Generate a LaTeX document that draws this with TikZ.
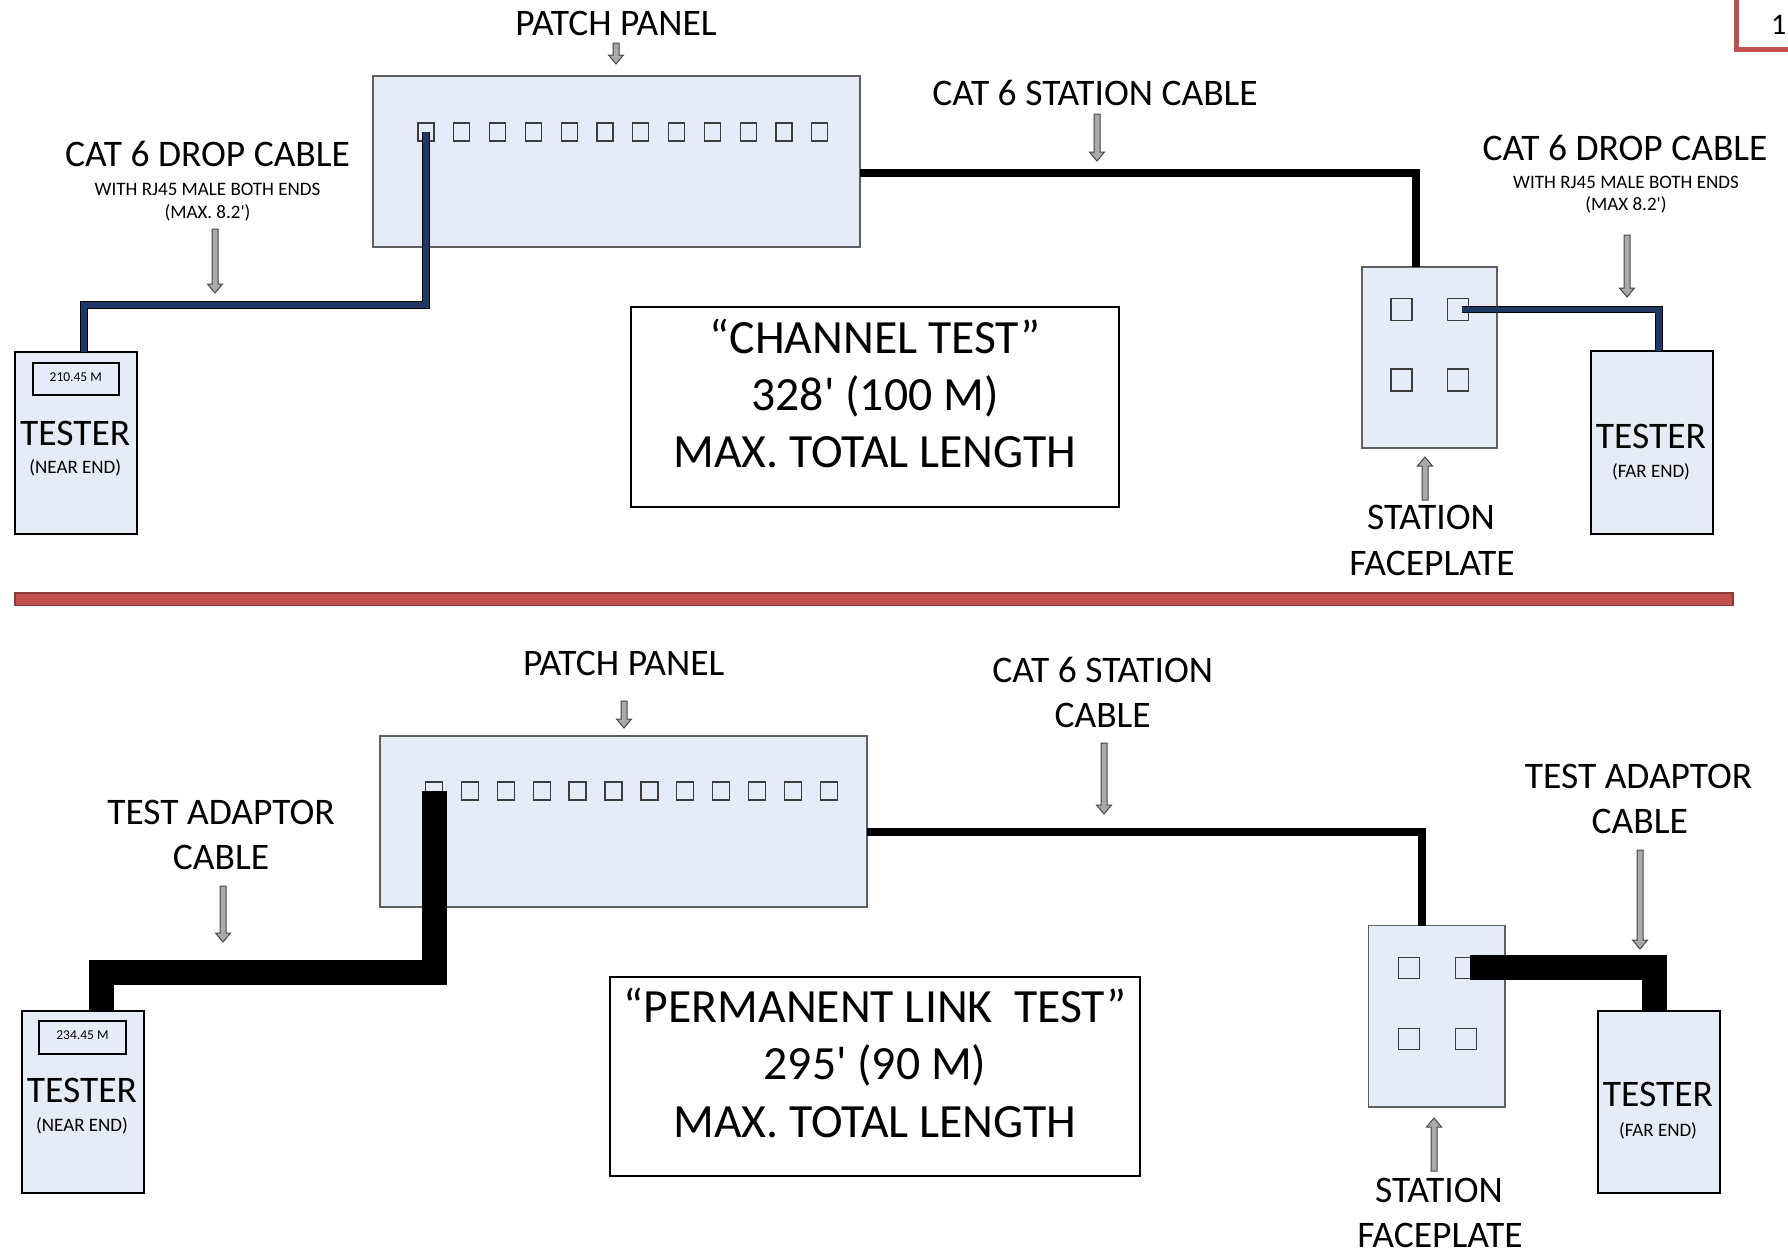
\documentclass[tikz,border=0pt]{standalone}
\usepackage{fontspec}
\setmainfont{Carlito}
\definecolor{panelfill}{RGB}{230,236,247}
\definecolor{panelline}{RGB}{95,95,95}
\definecolor{portline}{RGB}{60,60,60}
\definecolor{cablenavy}{RGB}{31,56,100}
\definecolor{arrowfill}{RGB}{170,170,170}
\definecolor{arrowline}{RGB}{70,70,70}
\definecolor{sepred}{RGB}{192,80,77}
\definecolor{sepdark}{RGB}{140,56,54}
\newcommand\garrow[3]{%
  \pgfmathsetmacro\gahb{#3-9*sign(#3-#2)}%
  \filldraw[fill=arrowfill,draw=arrowline,line width=1pt,line join=miter]
    ({#1-3},#2) -- ({#1+3},#2) -- ({#1+3},\gahb) -- ({#1+7.5},\gahb) -- (#1,#3)
    -- ({#1-7.5},\gahb) -- ({#1-3},\gahb) -- cycle;}
\begin{document}
\begin{tikzpicture}[x=1pt,y=-1pt,
  ppanel/.style={draw=panelline,fill=panelfill,line width=1.2pt,inner sep=0pt,outer sep=0pt},
  ttester/.style={draw=black,fill=panelfill,line width=2pt,inner sep=0pt,outer sep=0pt},
  pport/.style={draw=portline,fill=panelfill,line width=1.3pt,inner sep=0pt,outer sep=0pt},
  ddisp/.style={draw=black,line width=2pt,inner sep=0pt},
  tbox/.style={draw=black,fill=white,line width=1.5pt,inner sep=0pt},
  tlbig/.style={inner sep=0pt,anchor=base,font=\fontsize{37.5}{45}\selectfont},
  tlsub/.style={inner sep=0pt,anchor=base,font=\fontsize{19}{23}\selectfont},
  tlbox/.style={inner sep=0pt,anchor=base,font=\fontsize{47.7}{57}\selectfont},
  tltiny/.style={inner sep=0pt,anchor=base,font=\fontsize{13.5}{16}\selectfont},
  bluecable/.style={draw=cablenavy,line width=5.5pt,line join=miter,
     preaction={draw=black,line width=7.5pt,line join=miter}},
  stationcable/.style={draw=black,line width=8pt,line join=miter},
  thickcable/.style={draw=black,line width=25pt,line join=miter}]
\fill[white] (0,0) rectangle (1788,1253);
\useasboundingbox (0,0) rectangle (1788,1253);

% corner mark
\draw[sepred,line width=5pt] (1736.5,-5) -- (1736.5,49.5) -- (1800,49.5);
\node[inner sep=0pt,anchor=base west,font=\fontsize{30}{36}\selectfont] (pg) at (1771,34) {1};

% ================= TOP: CHANNEL TEST =================
\node[ppanel,minimum width=487,minimum height=171] (pp1) at (616.5,161.5) {};
\foreach \i in {0,...,11}
  \node[pport,minimum width=16,minimum height=18] (pa\i) at ({426+35.8*\i},132) {};
\node[ppanel,minimum width=135,minimum height=181] (fa) at (1429.5,357.5) {};
\node[pport,minimum width=21,minimum height=22] (fq0) at (1401.5,309.5) {};
\node[pport,minimum width=21,minimum height=22] (fq1) at (1458,309.5) {};
\node[pport,minimum width=21,minimum height=22] (fq2) at (1401.5,380) {};
\node[pport,minimum width=21,minimum height=22] (fq3) at (1458,380) {};
\node[ttester,minimum width=122,minimum height=182] (ta) at (75.5,443) {};
\node[ddisp,minimum width=86,minimum height=32] (da) at (76,378.5) {};
\node[ttester,minimum width=122,minimum height=183] (tb) at (1652,442.5) {};
\node[tbox,minimum width=488,minimum height=200] (cb) at (875,407) {};

\node[tltiny] (da-t) at (75.8,381) {210.45 M};
\node[tlbig] (ta-t) at (75.3,445) {TESTER};
\node[tlsub] (ta-s) at (75.3,473) {(NEAR END)};
\node[tlbig] (tb-t) at (1651,448.5) {TESTER};
\node[tlsub] (tb-s) at (1651,477) {(FAR END)};

\node[tlbox] (cb1) at (875,353) {“CHANNEL TEST”};
\node[tlbox] (cb2) at (875,410) {328\textquotesingle{} (100 M)};
\node[tlbox] (cb3) at (875,467) {MAX. TOTAL LENGTH};

\node[tlbig] (l1) at (616,35.8) {PATCH PANEL};
\garrow{616}{43}{64}
\node[tlbig] (l2) at (207.5,166) {CAT 6 DROP CABLE};
\node[tlsub] (l2a) at (207.5,195) {WITH RJ45 MALE BOTH ENDS};
\node[tlsub] (l2b) at (207.5,218) {(MAX. 8.2\textquotesingle)};
\garrow{215}{229}{293}
\node[tlbig] (l3) at (1095,105.3) {CAT 6 STATION CABLE};
\garrow{1097}{114}{161}
\node[tlbig] (l4) at (1625,160) {CAT 6 DROP CABLE};
\node[tlsub] (l4a) at (1626,188.5) {WITH RJ45 MALE BOTH ENDS};
\node[tlsub] (l4b) at (1626,210.5) {(MAX 8.2\textquotesingle)};
\garrow{1627}{235}{297}
\node[tlbig] (l5) at (1431,529.5) {STATION};
\node[tlbig] (l5b) at (1432,575) {FACEPLATE};
\garrow{1425}{500}{457}

% cables top
\coordinate (cbl) at (84,305);
\coordinate (cbr) at (1659,0);
\draw[bluecable] (pa0.center) |- (cbl) -- (cbl |- ta.north);
\draw[bluecable] ([xshift=4pt]fq1.center) -| (cbr |- tb.north);
\draw[stationcable] ([yshift=-11.5pt]pp1.east) -| ([xshift=-13.5pt]fa.north);

% separator
\draw[draw=sepdark,fill=sepred,line width=1.2pt] (15,593) rectangle (1733,605.5);

% ================= BOTTOM: PERMANENT LINK TEST =================
\node[ppanel,minimum width=487,minimum height=171] (pp2) at (623.5,821.5) {};
\foreach \i in {0,...,11}
  \node[pport,minimum width=17,minimum height=18] (pb\i) at ({434+35.9*\i},791) {};
\node[ppanel,minimum width=136.5,minimum height=181.5] (fb) at (1436.8,1016.3) {};
\node[pport,minimum width=21,minimum height=21] (fr0) at (1409,967.8) {};
\node[pport,minimum width=21,minimum height=21] (fr1) at (1466,967.8) {};
\node[pport,minimum width=21,minimum height=21] (fr2) at (1409,1039.3) {};
\node[pport,minimum width=21,minimum height=21] (fr3) at (1466,1039.3) {};
\node[ttester,minimum width=122.4,minimum height=182] (tc) at (83,1101.5) {};
\node[ddisp,minimum width=87,minimum height=33.5] (dc) at (82.7,1037.3) {};
\node[ttester,minimum width=121.6,minimum height=182] (td) at (1658.8,1101.5) {};
\node[tbox,minimum width=530,minimum height=199] (pb) at (875,1076.5) {};

\node[tltiny] (dc-t) at (82.5,1039.7) {234.45 M};
\node[tlbig] (tc-t) at (82,1102) {TESTER};
\node[tlsub] (tc-s) at (82,1131.5) {(NEAR END)};
\node[tlbig] (td-t) at (1658,1106.5) {TESTER};
\node[tlsub] (td-s) at (1658,1136) {(FAR END)};

\node[tlbox] (pb1) at (875,1022.5) {“PERMANENT LINK\ \ TEST”};
\node[tlbox] (pb2) at (875,1079.5) {295\textquotesingle{} (90 M)};
\node[tlbox] (pb3) at (875,1137) {MAX. TOTAL LENGTH};

\node[tlbig] (m1) at (623.7,675.5) {PATCH PANEL};
\garrow{624}{701}{728}
\node[tlbig] (m2) at (221,824.3) {TEST ADAPTOR};
\node[tlbig] (m2b) at (221,869.3) {CABLE};
\garrow{223}{886}{942}
\node[tlbig] (m3) at (1102.7,682.3) {CAT 6 STATION};
\node[tlbig] (m3b) at (1102.7,727) {CABLE};
\garrow{1104}{743}{814}
\node[tlbig] (m4) at (1638.6,788.4) {TEST ADAPTOR};
\node[tlbig] (m4b) at (1639.8,833) {CABLE};
\garrow{1640}{850}{949}
\node[tlbig] (m5) at (1439,1202.4) {STATION};
\node[tlbig] (m5b) at (1440,1247.5) {FACEPLATE};
\garrow{1434}{1171}{1118}

% cables bottom
\coordinate (ctl) at (101,972.5);
\coordinate (ctr) at (1654.5,0);
\draw[thickcable] (pb0.center) |- (ctl) -- (ctl |- tc.north);
\draw[thickcable] ([xshift=4pt]fr1.center) -| (ctr |- td.north);
\draw[stationcable] ([yshift=-10.5pt]pp2.east) -| ([xshift=-14.8pt]fb.north);
\end{tikzpicture}
\end{document}
